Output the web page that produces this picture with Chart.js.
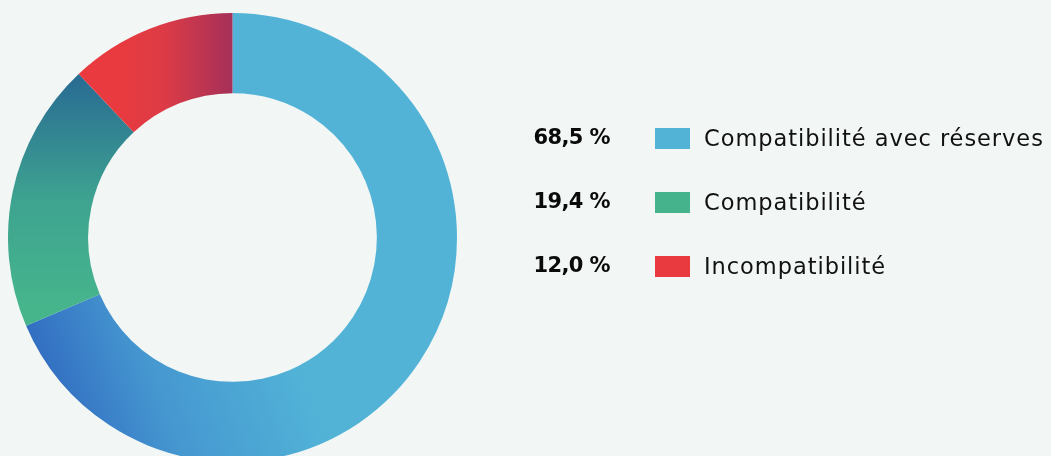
<!DOCTYPE html>
<html lang="fr">
<head>
<meta charset="utf-8">
<title>Compatibilité</title>
<script src="https://cdn.jsdelivr.net/npm/chart.js@4/dist/chart.umd.min.js"></script>
<style>
  html, body { margin: 0; padding: 0; width: 1051px; height: 456px; overflow: hidden; background: #f2f7f5; }
  #wrap { position: absolute; left: 8px; top: 13px; width: 449px; height: 449px; }
  #legend { position: absolute; left: 0; top: 0; width: 1051px; height: 456px; pointer-events: none; }
  .row { position: absolute; left: 0; height: 30px; width: 1051px; }
  .pct { position: absolute; right: 441px; top: 1px; line-height: 30px; font: 700 21px "DejaVu Sans", sans-serif; letter-spacing: -0.6px; color: #0a0a0a; white-space: nowrap; }
  .box { position: absolute; left: 655px; top: 4px; width: 35px; height: 21px; }
  .lab { position: absolute; left: 704px; top: 1px; line-height: 30px; font: 400 22.5px "DejaVu Sans", sans-serif; letter-spacing: 0.95px; color: #111; white-space: nowrap; }
</style>
</head>
<body>
<div id="wrap"><canvas id="c"></canvas></div>
<div id="legend"></div>
<script>
// Répartition des avis
const categories = ['Compatibilité avec réserves', 'Compatibilité', 'Incompatibilité'];
const values = [68.5, 19.4, 12.0];
const valueLabels = ['68,5 %', '19,4 %', '12,0 %'];
const swatchColors = ['#52b3d7', '#45b48c', '#e83a3f'];

// Gradient fill per slice, laid out relative to the chart area
function sliceFill(ctx) {
  const chart = ctx.chart;
  const a = chart.chartArea;
  if (!a) return swatchColors[ctx.dataIndex];
  const c = chart.ctx;
  const cx = (a.left + a.right) / 2, cy = (a.top + a.bottom) / 2;
  const r = Math.min(a.right - a.left, a.bottom - a.top) / 2;
  let g;
  if (ctx.dataIndex === 0) {
    g = c.createLinearGradient(cx - r * 0.95, cy + r * 0.55, cx + r * 0.15, cy + r * 0.15);
    g.addColorStop(0, '#2f66bf');
    g.addColorStop(0.45, '#4597d0');
    g.addColorStop(1, '#52b3d7');
  } else if (ctx.dataIndex === 1) {
    g = c.createLinearGradient(0, cy - r * 0.73, 0, cy + r * 0.3);
    g.addColorStop(0, '#286a93');
    g.addColorStop(0.55, '#3ea390');
    g.addColorStop(1, '#46b58c');
  } else {
    g = c.createLinearGradient(cx - r * 0.5, 0, cx, 0);
    g.addColorStop(0, '#e83a3f');
    g.addColorStop(0.4, '#dc3b46');
    g.addColorStop(1, '#a53059');
  }
  return g;
}

new Chart(document.getElementById('c'), {
  type: 'doughnut',
  data: {
    labels: categories,
    datasets: [{
      data: values,
      backgroundColor: sliceFill,
      borderWidth: 0,
      hoverOffset: 0
    }]
  },
  options: {
    responsive: true,
    maintainAspectRatio: false,
    animation: false,
    cutout: '64.3%',
    rotation: 0,
    layout: { padding: 0 },
    plugins: { legend: { display: false }, tooltip: { enabled: false } }
  }
});

// Legend: value, swatch, label
const legend = document.getElementById('legend');
const rowTops = [124, 188, 252];
categories.forEach((name, i) => {
  const row = document.createElement('div');
  row.className = 'row';
  row.style.top = rowTops[i] + 'px';
  row.innerHTML = '<span class="pct"></span><span class="box"></span><span class="lab"></span>';
  row.querySelector('.pct').textContent = valueLabels[i];
  row.querySelector('.box').style.background = swatchColors[i];
  row.querySelector('.lab').textContent = name;
  legend.appendChild(row);
});
</script>
</body>
</html>
